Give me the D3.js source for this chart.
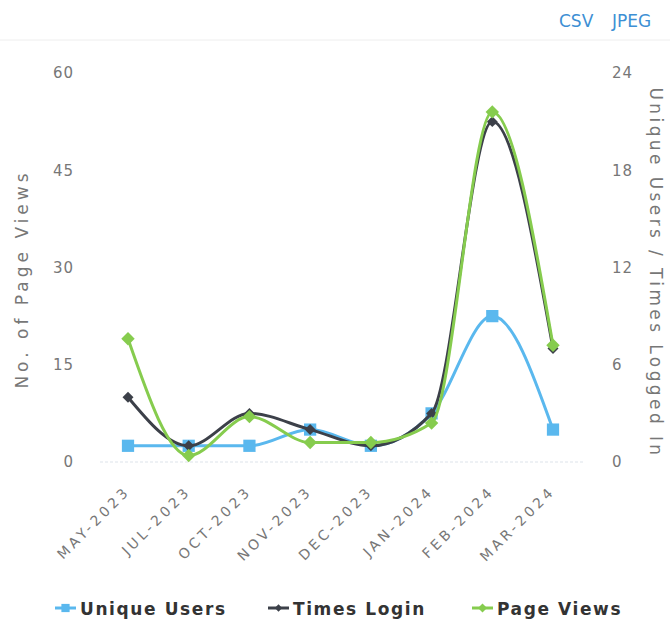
<!DOCTYPE html>
<html>
<head>
<meta charset="utf-8">
<script src="https://cdn.jsdelivr.net/npm/d3@7/dist/d3.min.js"></script>
<style>
  body { margin: 0; background: #fff; }
  text { font-family: "DejaVu Sans", Verdana, sans-serif; }
</style>
</head>
<body>
<div id="chart"></div>
<script>
const months = ['MAY-2023', 'JUL-2023', 'OCT-2023', 'NOV-2023', 'DEC-2023', 'JAN-2024', 'FEB-2024', 'MAR-2024'];
const uniqueUsers = [1, 1, 1, 2, 1, 3, 9, 2];
const timesLogin = [4, 1, 3, 2, 1, 3, 21, 7];
const pageViews = [19, 1, 7, 3, 3, 6, 54, 18];
const leftTicks = [0, 15, 30, 45, 60];
const rightTicks = [0, 6, 12, 18, 24];

const W = 670, H = 623;
const svg = d3.select('#chart').append('svg')
  .attr('width', W)
  .attr('height', H);

// toolbar
svg.append('text').attr('x', 559).attr('y', 27).text('CSV')
  .attr('fill', '#3d8fd4').style('font-size', '17px');
svg.append('text').attr('x', 612).attr('y', 27).text('JPEG')
  .attr('fill', '#3d8fd4').style('font-size', '17px');
svg.append('line').attr('x1', 0).attr('x2', W).attr('y1', 40).attr('y2', 40)
  .attr('stroke', '#eee').attr('stroke-width', 1);

const x = d3.scalePoint().domain(months).range([128, 553]);
const yL = d3.scaleLinear().domain([0, 60]).range([462, 73]);
const yR = d3.scaleLinear().domain([0, 24]).range([462, 73]);

// baseline
svg.append('line').attr('x1', 100).attr('x2', 585).attr('y1', yL(0)).attr('y2', yL(0))
  .attr('stroke', '#dde3ea').attr('stroke-width', 1).attr('stroke-dasharray', '3,2');

// left axis
const gl = svg.append('g').attr('transform', 'translate(74,0)')
  .call(d3.axisLeft(yL).tickValues(leftTicks).tickSize(0).tickPadding(0));
gl.select('.domain').remove();
gl.selectAll('text').attr('fill', '#777').style('font-size', '15px')
  .style('letter-spacing', '1px');

const gr = svg.append('g').attr('transform', 'translate(612,0)')
  .call(d3.axisRight(yR).tickValues(rightTicks).tickSize(0).tickPadding(0));
gr.select('.domain').remove();
gr.selectAll('text').attr('fill', '#777').style('font-size', '15px')
  .style('letter-spacing', '1px');

// axis titles
svg.append('text')
  .attr('transform', 'translate(28,279) rotate(-90)')
  .attr('text-anchor', 'middle')
  .attr('fill', '#777')
  .style('font-size', '17px')
  .style('letter-spacing', '4px')
  .text('No. of Page Views');

svg.append('text')
  .attr('transform', 'translate(650,273) rotate(90)')
  .attr('text-anchor', 'middle')
  .attr('fill', '#777')
  .style('font-size', '17px')
  .style('letter-spacing', '3.4px')
  .text('Unique Users / Times Logged In');

// x labels
svg.append('g').selectAll('text')
  .data(months)
  .enter()
  .append('text')
  .attr('transform', d => 'translate(' + (x(d) + 3) + ',492) rotate(-45)')
  .attr('text-anchor', 'end')
  .attr('fill', '#777')
  .style('font-size', '14px')
  .style('letter-spacing', '3.5px')
  .text(d => d);

const series = [
  {name: 'Unique Users', values: uniqueUsers, y: yR, color: '#5ab8ee', shape: d3.symbolSquare, size: 150, rot: 0},
  {name: 'Times Login', values: timesLogin, y: yR, color: '#3c4049', shape: d3.symbolSquare, size: 60, rot: 45},
  {name: 'Page Views', values: pageViews, y: yL, color: '#86cc4e', shape: d3.symbolSquare, size: 90, rot: 45}
];

const line = (s) => d3.line()
  .x((d, i) => x(months[i]))
  .y(d => s.y(d))
  .curve(d3.curveMonotoneX);

series.forEach(s => {
  const g = svg.append('g');
  g.append('path')
    .attr('d', line(s)(s.values))
    .attr('fill', 'none')
    .attr('stroke', s.color)
    .attr('stroke-width', 3);
  g.selectAll('path.pt')
    .data(s.values)
    .enter()
    .append('path')
    .attr('class', 'pt')
    .attr('d', d3.symbol().type(s.shape).size(s.size))
    .attr('transform', (d, i) => 'translate(' + x(months[i]) + ',' + s.y(d) + ') rotate(' + s.rot + ')')
    .attr('fill', s.color);
});

// legend
const legendX = [55, 268, 472];
const lg = svg.append('g').selectAll('g')
  .data(series)
  .enter()
  .append('g')
  .attr('transform', (d, i) => 'translate(' + legendX[i] + ',608)');
lg.append('line').attr('x1', 0).attr('x2', 21).attr('y1', 0).attr('y2', 0)
  .attr('stroke', d => d.color).attr('stroke-width', 3);
lg.append('path')
  .attr('d', d => d3.symbol().type(d.shape).size(d.size * 0.45)())
  .attr('transform', d => 'translate(10.5,0) rotate(' + d.rot + ')')
  .attr('fill', d => d.color);
lg.append('text')
  .attr('x', 25).attr('y', 6.5)
  .attr('fill', '#333')
  .style('font-size', '17px')
  .style('font-weight', 'bold')
  .style('letter-spacing', '1.6px')
  .text(d => d.name);
</script>
</body>
</html>
